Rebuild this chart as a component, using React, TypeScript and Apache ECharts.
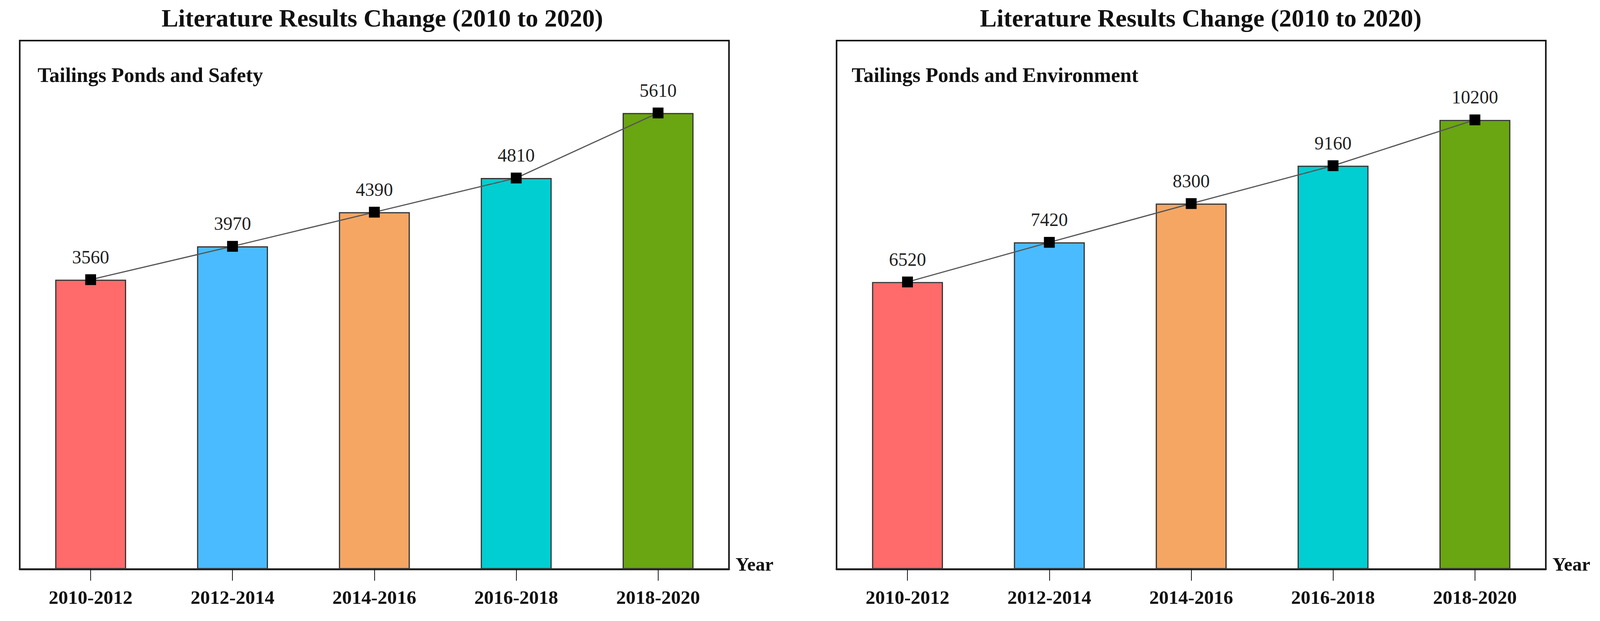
import React, { useEffect, useRef } from "react";
import * as echarts from "echarts";

const categories = ["2010-2012", "2012-2014", "2014-2016", "2016-2018", "2018-2020"];
const safetyValues = [3560, 3970, 4390, 4810, 5610];
const environmentValues = [6520, 7420, 8300, 9160, 10200];
const barColors = ["#FF6A6A", "#4ABBFF", "#F5A663", "#00CED1", "#6AA512"];
const mainTitle = "Literature Results Change (2010 to 2020)";
const panelTitles = ["Tailings Ponds and Safety", "Tailings Ponds and Environment"];
const axisName = "Year";
const yMax = [6500, 12000];

const SERIF = "'Liberation Serif', 'Times New Roman', serif";
const REF_W = 4135;
const REF_H = 1591;

export default function App() {
  const ref = useRef<HTMLDivElement>(null);
  const vw = typeof window !== "undefined" && window.innerWidth ? window.innerWidth : REF_W;
  const vh = typeof window !== "undefined" && window.innerHeight ? window.innerHeight : REF_H;
  const W = Math.min(vw, REF_W);
  const H = Math.min(vh, REF_H);
  useEffect(() => {
    document.body.style.margin = "0";
    document.documentElement.style.overflow = "hidden";
    document.body.style.overflow = "hidden";
    if (!ref.current) return;
    const chart = echarts.init(ref.current, null, { renderer: "svg" });
    const s = Math.min(W / REF_W, H / REF_H);
    const X = (v: number) => v * s;
    const Y = (v: number) => v * s;
    const F = (v: number) => v * s;
    const grids = [
      { left: X(51), top: Y(105), width: X(1833), height: Y(1367) },
      { left: X(2162), top: Y(105), width: X(1833), height: Y(1367) },
    ];
    const titleCenters = [983, 3098];
    const subtitleLefts = [92, 2196];
    const dataSets = [safetyValues, environmentValues];
    const option: any = {
      animation: false,
      backgroundColor: "#ffffff",
      title: [
        ...titleCenters.map((c) => ({
          text: mainTitle,
          left: X(c),
          top: Y(10),
          textAlign: "center",
          textStyle: { fontFamily: SERIF, fontWeight: "bold", fontSize: F(65), color: "#111" },
        })),
        ...subtitleLefts.map((l, i) => ({
          text: panelTitles[i],
          left: X(l),
          top: Y(162),
          textStyle: { fontFamily: SERIF, fontWeight: "bold", fontSize: F(53), color: "#111" },
        })),
      ],
      grid: grids.map((g) => ({
        ...g,
        show: true,
        borderColor: "#111",
        borderWidth: F(4),
        backgroundColor: "transparent",
        containLabel: false,
      })),
      xAxis: grids.map((_, i) => ({
        type: "category",
        gridIndex: i,
        data: categories,
        name: axisName,
        nameLocation: "end",
        nameGap: F(17),
        nameTextStyle: {
          fontFamily: SERIF,
          fontWeight: "bold",
          fontSize: F(49),
          color: "#111",
          verticalAlign: "bottom",
          padding: [0, 0, -F(12), 0],
        },
        axisLine: { show: true, lineStyle: { color: "#222", width: F(5) } },
        axisTick: { show: true, alignWithLabel: true, length: F(30), lineStyle: { color: "#111", width: F(2) } },
        axisLabel: {
          fontFamily: SERIF,
          fontWeight: "bold",
          fontSize: F(50),
          color: "#111",
          margin: F(48),
        },
        splitLine: { show: false },
      })),
      yAxis: grids.map((_, i) => ({
        type: "value",
        gridIndex: i,
        min: 0,
        max: yMax[i],
        show: false,
        splitLine: { show: false },
      })),
      series: [] as any[],
    };
    dataSets.forEach((vals, i) => {
      option.series.push({
        type: "bar",
        xAxisIndex: i,
        yAxisIndex: i,
        barWidth: "50%",
        data: vals.map((v, k) => ({
          value: v,
          itemStyle: { color: barColors[k], borderColor: "#333", borderWidth: F(3) },
        })),
        z: 2,
      });
      option.series.push({
        type: "line",
        xAxisIndex: i,
        yAxisIndex: i,
        data: vals,
        symbol: "rect",
        symbolSize: F(28),
        itemStyle: { color: "#000" },
        lineStyle: { color: "#555", width: F(3) },
        label: {
          show: true,
          position: "top",
          distance: F(20),
          fontFamily: SERIF,
          fontSize: F(48),
          color: "#222",
        },
        z: 3,
      });
    });
    chart.setOption(option);
    return () => chart.dispose();
  }, [W, H]);
  return <div ref={ref} style={{ width: W, height: H }} />;
}
